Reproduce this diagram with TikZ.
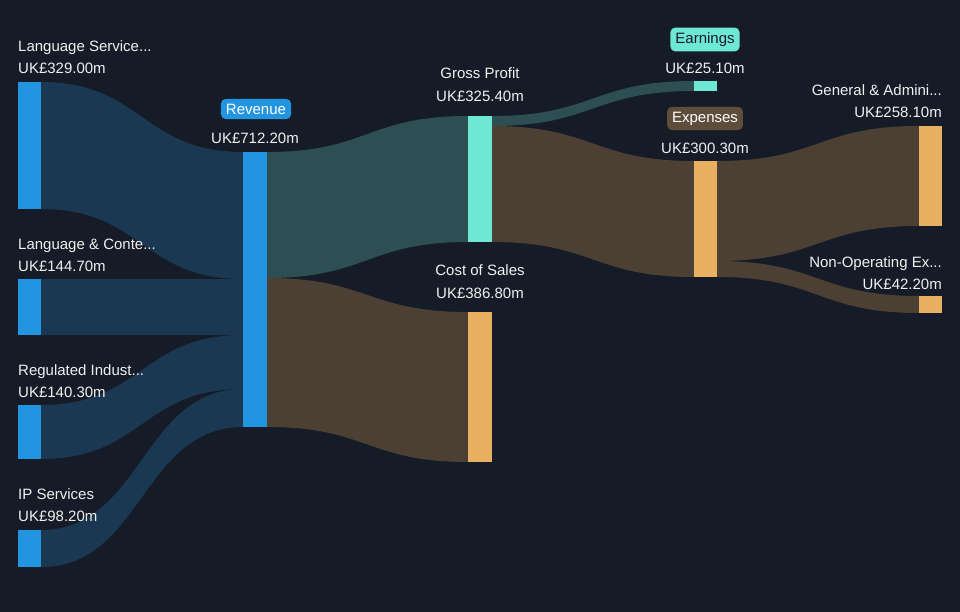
\documentclass[tikz,border=0pt]{standalone}
\usepackage{fontspec}
\setmainfont{Liberation Sans}
\definecolor{bg}{HTML}{151C27}
\definecolor{bl}{HTML}{2394E0}
\definecolor{blf}{HTML}{1B3853}
\definecolor{tl}{HTML}{6EE7D4}
\definecolor{tlf}{HTML}{2D4E52}
\definecolor{br}{HTML}{4B4033}
\definecolor{or}{HTML}{E8B060}
\definecolor{pillbr}{HTML}{5E4D3B}
\definecolor{tx}{HTML}{F0F0F0}
\newcommand\flw[7]{\fill[#1] (#2,#3) .. controls ({(#2+#5)/2},#3) and ({(#2+#5)/2},#6) .. (#5,#6) -- (#5,#7) .. controls ({(#2+#5)/2},#7) and ({(#2+#5)/2},#4) .. (#2,#4) -- cycle;}
\begin{document}
\begin{tikzpicture}[x=1pt,y=-1pt,
 lab/.style={text=tx,font=\fontsize{15}{18}\selectfont,inner sep=0pt,anchor=base},
 pill/.style={font=\fontsize{15}{18}\selectfont,rounded corners=5pt,inner sep=5pt,anchor=center}]
\fill[bg] (0,0) rectangle (960,612);
\useasboundingbox (0,0) rectangle (960,612);
% flows
\flw{blf}{41}{82}{209}{243}{152}{279}
\flw{blf}{41}{279}{335}{243}{279}{335}
\flw{blf}{41}{405}{459}{243}{335}{389}
\flw{blf}{41}{530}{567}{243}{389}{427}
\flw{tlf}{267}{152}{278}{468}{116}{242}
\flw{br}{267}{278}{427}{468}{312}{462}
\flw{tlf}{492}{116}{126}{694}{81}{91}
\flw{br}{492}{126}{242}{694}{161}{277}
\flw{br}{717}{161}{261}{919}{126}{226}
\flw{br}{717}{261}{277}{919}{296}{313}
% bars
\fill[bl] (18,82) rectangle (41,209);
\fill[bl] (18,279) rectangle (41,335);
\fill[bl] (18,405) rectangle (41,459);
\fill[bl] (18,530) rectangle (41,567);
\fill[bl] (243,152) rectangle (267,427);
\fill[tl] (468,116) rectangle (492,242);
\fill[or] (468,312) rectangle (492,462);
\fill[tl] (694,81) rectangle (717,91);
\fill[or] (694,161) rectangle (717,277);
\fill[or] (919,126) rectangle (942,226);
\fill[or] (919,296) rectangle (942,313);
% labels
\node[lab,anchor=base west] (l1) at (18,52) {Language Service...};
\node[lab,anchor=base west] (v1) at (18,74) {UK£329.00m};
\node[lab,anchor=base west] (l2) at (18,249) {Language \& Conte...};
\node[lab,anchor=base west] (v2) at (18,271) {UK£144.70m};
\node[lab,anchor=base west] (l3) at (18,375) {Regulated Indust...};
\node[lab,anchor=base west] (v3) at (18,397) {UK£140.30m};
\node[lab,anchor=base west] (l4) at (18,499) {IP Services};
\node[lab,anchor=base west] (v4) at (18,521) {UK£98.20m};
\node[pill,fill=bl,text=white] (rev) at (256,109) {Revenue};
\node[lab] (vr) at (255,144) {UK£712.20m};
\node[lab] (lg) at (480,79) {Gross Profit};
\node[lab] (vg) at (480,102) {UK£325.40m};
\node[lab] (lc) at (480,275) {Cost of Sales};
\node[lab] (vc) at (480,298) {UK£386.80m};
\node[pill,fill=tl,text=bg] (ear) at (705,39.5) {Earnings};
\node[lab] (ve) at (705,74) {UK£25.10m};
\node[pill,fill=pillbr,text=white] (exp) at (705,118.5) {Expenses};
\node[lab] (vx) at (705,154) {UK£300.30m};
\node[lab,anchor=base east] (la) at (942,96) {General \& Admini...};
\node[lab,anchor=base east] (va) at (942,118) {UK£258.10m};
\node[lab,anchor=base east] (ln) at (942,267) {Non-Operating Ex...};
\node[lab,anchor=base east] (vn) at (942,289) {UK£42.20m};
\end{tikzpicture}
\end{document}
